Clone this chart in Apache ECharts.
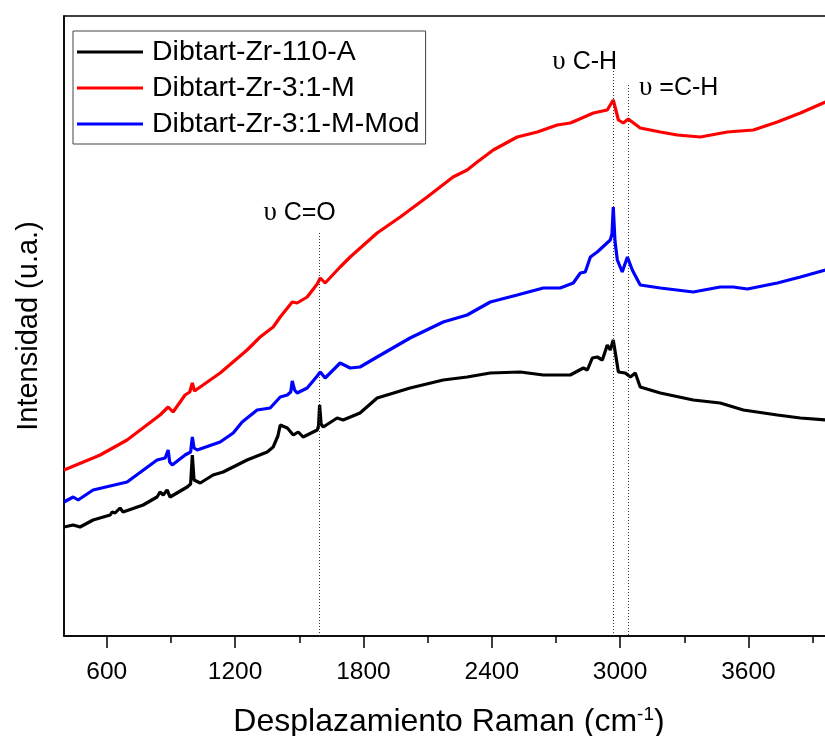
<!DOCTYPE html>
<html>
<head>
<meta charset="utf-8">
<script src="https://cdn.jsdelivr.net/npm/echarts@6/dist/echarts.min.js"></script>
<style>
  html, body { margin: 0; padding: 0; background: #fff; }
  #chart { width: 825px; height: 736px; }
</style>
</head>
<body>
<div id="chart"></div>
<script>
// Raman spectra of the three Dibtart-Zr samples (shift in cm-1, intensity in a.u.)
const shiftBlack = [400, 443, 475, 536, 616, 625, 639, 662, 676, 770, 835, 849, 864, 882, 896, 976, 992, 1000, 1008, 1013, 1037, 1097, 1144, 1256, 1350, 1378, 1400, 1411, 1444, 1472, 1495, 1518, 1584, 1590, 1595, 1602, 1612, 1677, 1705, 1784, 1864, 2018, 2173, 2285, 2393, 2533, 2641, 2767, 2828, 2847, 2870, 2893, 2917, 2940, 2954, 2968, 2992, 3024, 3048, 3071, 3094, 3188, 3342, 3468, 3576, 3735, 3843, 3960];
const intBlack   = [109, 111, 109, 116, 121, 124, 123, 128, 124, 131, 139, 144, 141, 146, 139, 149, 152, 181, 156, 154, 153, 161, 164, 176, 184, 189, 200, 211, 208, 201, 204, 199, 206, 210, 231, 212, 209, 218, 216, 223, 238, 248, 256, 259, 263, 264, 261, 261, 268, 266, 278, 279, 276, 291, 286, 296, 264, 263, 259, 263, 249, 243, 236, 233, 226, 221, 218, 216];

const shiftRed = [400, 536, 569, 695, 849, 887, 910, 966, 988, 1000, 1010, 1130, 1256, 1317, 1378, 1411, 1467, 1490, 1537, 1584, 1598, 1621, 1691, 1738, 1864, 1972, 2098, 2219, 2285, 2332, 2407, 2519, 2613, 2706, 2767, 2800, 2875, 2940, 2968, 2992, 3015, 3038, 3094, 3188, 3267, 3375, 3501, 3623, 3735, 3843, 3960];
const intRed   = [166, 178, 181, 196, 221, 229, 224, 241, 244, 253, 245, 263, 286, 299, 309, 319, 334, 333, 339, 352, 358, 353, 369, 379, 403, 419, 439, 459, 466, 474, 486, 499, 504, 511, 513, 516, 523, 526, 536, 516, 513, 517, 508, 504, 501, 499, 504, 506, 514, 523, 534];

const shiftBlue = [400, 443, 466, 536, 695, 835, 873, 882, 887, 894, 906, 966, 992, 1000, 1008, 1023, 1130, 1191, 1233, 1303, 1364, 1411, 1444, 1460, 1467, 1478, 1490, 1537, 1584, 1598, 1621, 1691, 1738, 1784, 1864, 2018, 2173, 2285, 2393, 2519, 2641, 2720, 2781, 2814, 2837, 2861, 2893, 2954, 2962, 2968, 2976, 2987, 3010, 3034, 3057, 3094, 3188, 3342, 3468, 3529, 3595, 3735, 3843, 3960];
const intBlue   = [134, 139, 136, 146, 154, 176, 178, 180, 186, 174, 171, 181, 184, 199, 188, 186, 194, 203, 214, 226, 228, 239, 241, 244, 255, 246, 243, 248, 260, 264, 258, 273, 268, 269, 279, 298, 314, 321, 334, 341, 348, 348, 353, 363, 364, 379, 384, 396, 402, 429, 395, 376, 364, 379, 366, 351, 348, 344, 349, 349, 347, 353, 359, 366];

const seriesNames = ['Dibtart-Zr-110-A', 'Dibtart-Zr-3:1-M', 'Dibtart-Zr-3:1-M-Mod'];
const seriesColors = ['#000000', '#ff0000', '#0000ff'];

// x-axis tick labels (major) and minor tick positions
const majorTicks = [600, 1200, 1800, 2400, 3000, 3600];
const minorTicks = [900, 1500, 2100, 2700, 3300, 3900];

// band assignments: Raman shift and height where each guide line starts
const bandNames = ['C=O', 'C-H', '=C-H'];
const bandShift = [1595, 2970, 3040];
const bandTop   = [403, 568, 551];

const zip = (xs, ys) => xs.map((x, i) => [x, ys[i]]);
const FONT = 'Liberation Sans, Arial, sans-serif';

const chart = echarts.init(document.getElementById('chart'), null, { renderer: 'canvas' });

const lineSeries = [
  zip(shiftBlack, intBlack),
  zip(shiftRed, intRed),
  zip(shiftBlue, intBlue)
].map((data, i) => ({
  name: seriesNames[i],
  type: 'line',
  data: data,
  showSymbol: false,
  symbol: 'none',
  smooth: false,
  animation: false,
  z: 3 + i,
  lineStyle: { color: seriesColors[i], width: 3.2 },
  itemStyle: { color: seriesColors[i] }
}));

// dotted guide lines for the band assignments
lineSeries[0].markLine = {
  silent: true,
  symbol: 'none',
  animation: false,
  label: { show: false },
  lineStyle: { color: '#333', width: 1, type: [1, 2] },
  data: bandShift.map((s, i) => [{ coord: [s, bandTop[i]] }, { coord: [s, 0] }])
};

chart.setOption({
  animation: false,
  backgroundColor: '#fff',
  grid: {
    left: 64, top: 16, width: 770, height: 620,
    outerBoundsMode: 'none',
    containLabel: false,
    show: true, borderColor: '#000', borderWidth: 1.5, backgroundColor: 'transparent'
  },
  legend: {
    orient: 'vertical',
    left: 73, top: 31,
    padding: [6, 6, 5, 4],
    itemGap: 6,
    itemWidth: 66,
    itemHeight: 3,
    icon: 'rect',
    borderColor: '#444',
    borderWidth: 1,
    selectedMode: false,
    data: seriesNames,
    textStyle: { fontFamily: FONT, fontSize: 28.5, color: '#000', lineHeight: 30, padding: [0, 0, 0, 4] }
  },
  xAxis: [{
    type: 'value',
    min: 400, max: 4000,
    name: 'Desplazamiento Raman (cm{sup|-1})',
    nameLocation: 'middle',
    nameGap: 69,
    nameTextStyle: {
      fontFamily: FONT, fontSize: 32, color: '#000',
      rich: { sup: { fontFamily: FONT, fontSize: 19, color: '#000', verticalAlign: 'top', padding: [0, 0, 16, 0] } }
    },
    axisLine: { show: true, lineStyle: { color: '#000', width: 1.5 } },
    axisTick: { show: true, inside: false, length: 12, lineStyle: { color: '#000', width: 1.5 }, customValues: majorTicks },
    axisLabel: { show: true, customValues: majorTicks, margin: 24, fontFamily: FONT, fontSize: 24.5, color: '#000', formatter: v => String(v) },
    splitLine: { show: false }
  }, {
    type: 'value',
    min: 400, max: 4000,
    position: 'bottom',
    axisLine: { show: false },
    axisTick: { show: true, inside: false, length: 7, lineStyle: { color: '#000', width: 1.5 }, customValues: minorTicks },
    axisLabel: { show: false },
    splitLine: { show: false }
  }],
  yAxis: {
    type: 'value',
    min: 0, max: 620,
    name: 'Intensidad (u.a.)',
    nameLocation: 'middle',
    nameGap: 21,
    nameRotate: 90,
    nameTextStyle: { fontFamily: FONT, fontSize: 29, color: '#000' },
    axisLine: { show: true, lineStyle: { color: '#000', width: 1.5 } },
    axisTick: { show: false },
    axisLabel: { show: false },
    splitLine: { show: false }
  },
  series: lineSeries
});

// band labels placed beside the top of each guide line
const labelOffsets = [[-20, -20], [-29, -6], [50, 3]];
const graphics = bandShift.map((s, i) => {
  const p = chart.convertToPixel({ xAxisIndex: 0, yAxisIndex: 0 }, [s, bandTop[i]]);
  return {
    type: 'text',
    x: p[0] + labelOffsets[i][0],
    y: p[1] + labelOffsets[i][1],
    z: 10,
    style: {
      text: '{u|\u03c5} ' + bandNames[i],
      font: '25px ' + FONT,
      fill: '#000',
      align: 'center',
      verticalAlign: 'middle',
      rich: { u: { fontFamily: 'Liberation Serif, DejaVu Serif, serif', fontSize: 27, fill: '#000' } }
    }
  };
});
chart.setOption({ graphic: graphics });
</script>
</body>
</html>
